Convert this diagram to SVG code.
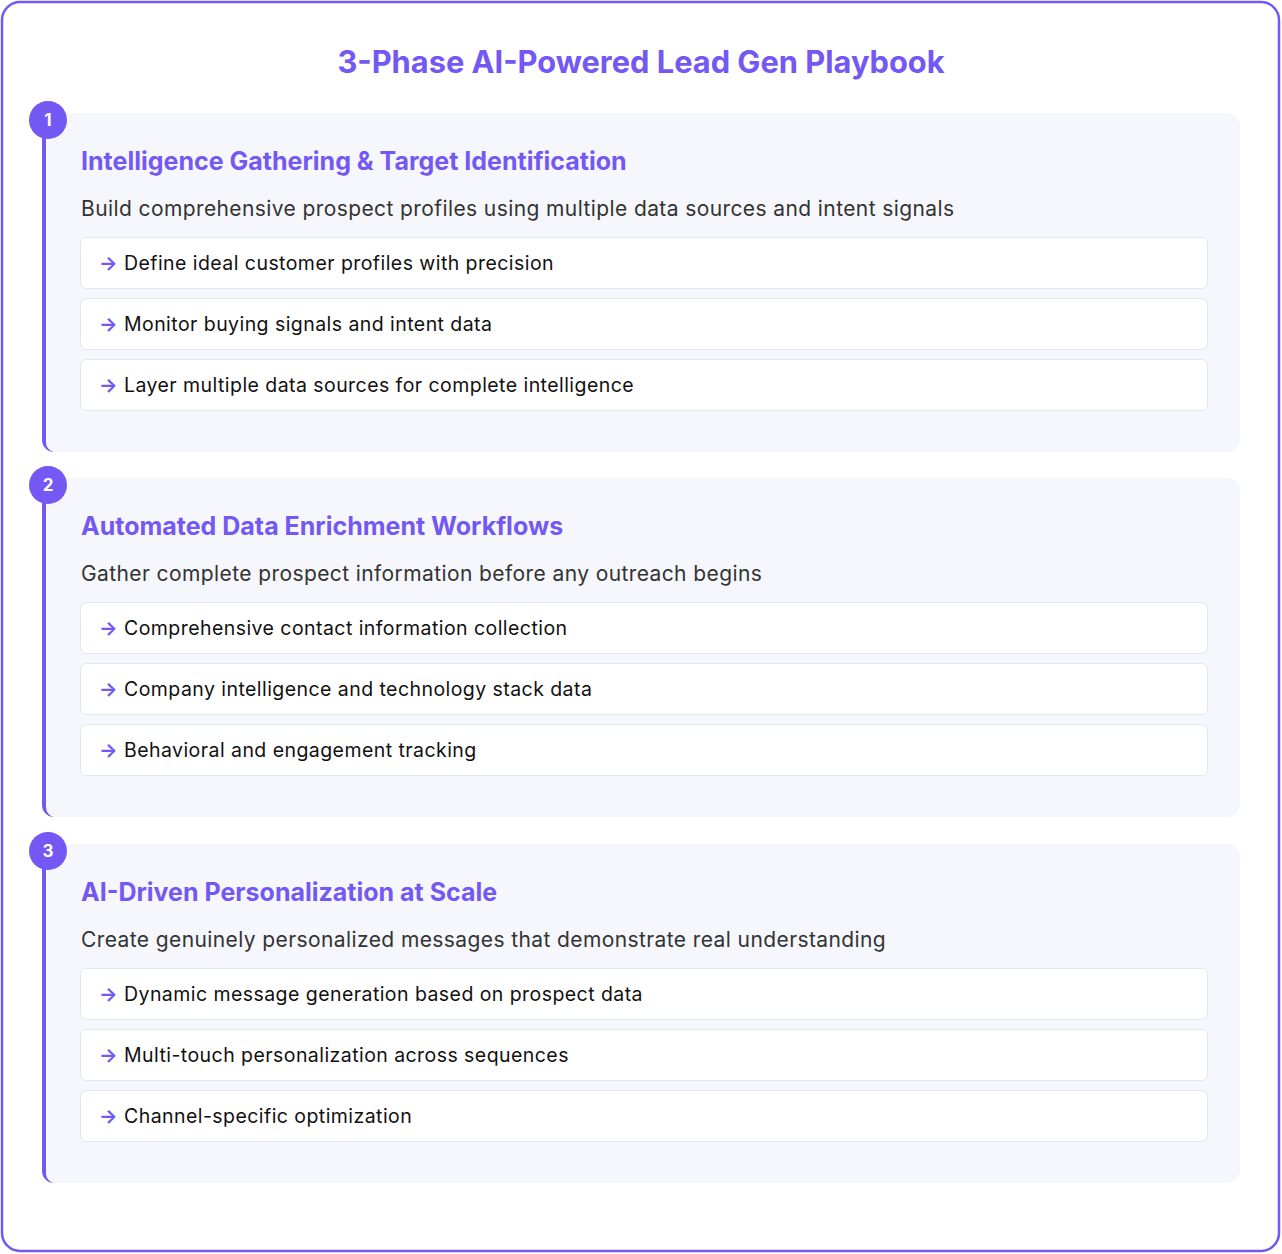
<svg xmlns="http://www.w3.org/2000/svg" width="1282" height="1254" viewBox="0 0 1282 1254">
<style>
.t{font-family:Inter,"Noto Sans",sans-serif}
.h{font-size:25px;font-weight:700;fill:#7458f4}
.d{font-size:21px;fill:#333;letter-spacing:0.4px}
.i{font-size:19.5px;fill:#111;letter-spacing:0.44px}
.ar{fill:#7458f4;font-weight:700}
.card{fill:#f6f7fc}
.bar{fill:#7458f4}
.item{fill:#fff;stroke:#e3e6f0;stroke-width:1}
.num{font-size:17px;font-weight:700;fill:#fff}
</style>
<rect x="0" y="0" width="1282" height="1254" fill="#fff"/>
<rect x="2" y="2" width="1277" height="1249" rx="18" fill="#fff" stroke="#7458f4" stroke-width="2.5"/>
<text class="t" x="641" y="73" text-anchor="middle" font-size="30.8" font-weight="700" fill="#7458f4">3-Phase AI-Powered Lead Gen Playbook</text>
<g id="phase1">
<rect class="card" x="42" y="113" width="1198" height="339" rx="13"/>
<path class="bar" d="M42 125 V440 A12 12 0 0 0 54 452 A10 10 0 0 1 46 442 V125 Z"/>
<circle class="bar" cx="48" cy="120" r="19"/>
<text class="t num" x="48" y="126" text-anchor="middle">1</text>
<text class="t h" x="81" y="170">Intelligence Gathering &amp; Target Identification</text>
<text class="t d" x="81" y="216">Build comprehensive prospect profiles using multiple data sources and intent signals</text>
<rect class="item" x="80.5" y="237.5" width="1127" height="51" rx="6"/>
<text class="t i" x="99" y="270"><tspan class="ar">→</tspan> Define ideal customer profiles with precision</text>
<rect class="item" x="80.5" y="298.5" width="1127" height="51" rx="6"/>
<text class="t i" x="99" y="331"><tspan class="ar">→</tspan> Monitor buying signals and intent data</text>
<rect class="item" x="80.5" y="359.5" width="1127" height="51" rx="6"/>
<text class="t i" x="99" y="392"><tspan class="ar">→</tspan> Layer multiple data sources for complete intelligence</text>
</g>
<g id="phase2" transform="translate(0,365)">
<rect class="card" x="42" y="113" width="1198" height="339" rx="13"/>
<path class="bar" d="M42 125 V440 A12 12 0 0 0 54 452 A10 10 0 0 1 46 442 V125 Z"/>
<circle class="bar" cx="48" cy="120" r="19"/>
<text class="t num" x="48" y="126" text-anchor="middle">2</text>
<text class="t h" x="81" y="170">Automated Data Enrichment Workflows</text>
<text class="t d" x="81" y="216">Gather complete prospect information before any outreach begins</text>
<rect class="item" x="80.5" y="237.5" width="1127" height="51" rx="6"/>
<text class="t i" x="99" y="270"><tspan class="ar">→</tspan> Comprehensive contact information collection</text>
<rect class="item" x="80.5" y="298.5" width="1127" height="51" rx="6"/>
<text class="t i" x="99" y="331"><tspan class="ar">→</tspan> Company intelligence and technology stack data</text>
<rect class="item" x="80.5" y="359.5" width="1127" height="51" rx="6"/>
<text class="t i" x="99" y="392"><tspan class="ar">→</tspan> Behavioral and engagement tracking</text>
</g>
<g id="phase3" transform="translate(0,731)">
<rect class="card" x="42" y="113" width="1198" height="339" rx="13"/>
<path class="bar" d="M42 125 V440 A12 12 0 0 0 54 452 A10 10 0 0 1 46 442 V125 Z"/>
<circle class="bar" cx="48" cy="120" r="19"/>
<text class="t num" x="48" y="126" text-anchor="middle">3</text>
<text class="t h" x="81" y="170">AI-Driven Personalization at Scale</text>
<text class="t d" x="81" y="216">Create genuinely personalized messages that demonstrate real understanding</text>
<rect class="item" x="80.5" y="237.5" width="1127" height="51" rx="6"/>
<text class="t i" x="99" y="270"><tspan class="ar">→</tspan> Dynamic message generation based on prospect data</text>
<rect class="item" x="80.5" y="298.5" width="1127" height="51" rx="6"/>
<text class="t i" x="99" y="331"><tspan class="ar">→</tspan> Multi-touch personalization across sequences</text>
<rect class="item" x="80.5" y="359.5" width="1127" height="51" rx="6"/>
<text class="t i" x="99" y="392"><tspan class="ar">→</tspan> Channel-specific optimization</text>
</g>
<g id="connectors"/>
</svg>
